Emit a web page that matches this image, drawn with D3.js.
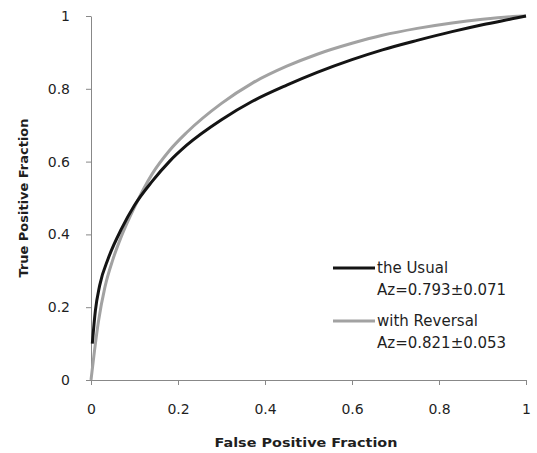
<!DOCTYPE html>
<html>
<head>
<meta charset="utf-8">
<script src="https://cdn.jsdelivr.net/npm/d3@7"></script>
<style>
  body { margin: 0; background: #fff; }
  text { font-family: "DejaVu Sans", Verdana, sans-serif; fill: #1f1f1f; }
</style>
</head>
<body>
<svg width="537" height="453"></svg>
<script>
(function(d3) {
    'use strict';

    // ROC points
    const usualFpf = [0.003, 0.01, 0.02, 0.04, 0.07, 0.1, 0.14, 0.18, 0.22, 0.3, 0.37, 0.45, 0.52, 0.6, 0.67, 0.75, 0.83, 0.9, 0.98, 1];
    const usualTpf = [0.10, 0.19, 0.26, 0.335, 0.415, 0.48, 0.545, 0.60, 0.645, 0.715, 0.765, 0.81, 0.845, 0.88, 0.907, 0.933, 0.957, 0.976, 0.995, 1];

    const reversalFpf = [0, 0.008, 0.017, 0.032, 0.05, 0.07, 0.1, 0.14, 0.18, 0.22, 0.3, 0.37, 0.45, 0.52, 0.6, 0.67, 0.75, 0.83, 0.9, 0.98, 1];
    const reversalTpf = [0, 0.08, 0.16, 0.255, 0.33, 0.395, 0.475, 0.565, 0.63, 0.68, 0.76, 0.815, 0.862, 0.895, 0.925, 0.947, 0.966, 0.981, 0.991, 0.999, 1];

    const ticks = [0, 0.2, 0.4, 0.6, 0.8, 1];
    const legendLabels = [['the Usual', 'Az=0.793\u00b10.071'], ['with Reversal', 'Az=0.821\u00b10.053']];
    const colors = ['#141414', '#a2a2a2'];

    const svg = d3.select('svg');
    const x = d3.scaleLinear().domain([0, 1]).range([91, 526]);
    const y = d3.scaleLinear().domain([0, 1]).range([380, 16]);

    const axisColor = '#888';
    const styleAxis = g => {
        g.select('.domain').attr('stroke', axisColor);
        g.selectAll('.tick line').attr('stroke', axisColor);
        g.selectAll('.tick text').attr('font-size', 14).attr('fill', '#1f1f1f');
    };

    svg.append('g')
        .attr('transform', `translate(0,${y(0)})`)
        .call(d3.axisBottom(x).tickValues(ticks).tickFormat(d3.format('~g'))
            .tickSizeInner(5).tickSizeOuter(0).tickPadding(19))
        .call(styleAxis);

    svg.append('g')
        .attr('transform', `translate(${x(0)},0)`)
        .call(d3.axisLeft(y).tickValues(ticks).tickFormat(d3.format('~g'))
            .tickSizeInner(5).tickSizeOuter(0).tickPadding(16))
        .call(styleAxis);

    svg.append('text')
        .attr('x', 306).attr('y', 447)
        .attr('text-anchor', 'middle')
        .attr('font-size', 13).attr('font-weight', 'bold')
        .attr('textLength', 183).attr('lengthAdjust', 'spacingAndGlyphs')
        .text('False Positive Fraction');

    svg.append('text')
        .attr('transform', 'translate(28,198) rotate(-90)')
        .attr('text-anchor', 'middle')
        .attr('font-size', 13).attr('font-weight', 'bold')
        .attr('textLength', 159).attr('lengthAdjust', 'spacingAndGlyphs')
        .text('True Positive Fraction');

    const line = d3.line()
        .x(d => x(d[0]))
        .y(d => y(d[1]))
        .curve(d3.curveMonotoneX);

    const series = [
        d3.zip(usualFpf, usualTpf),
        d3.zip(reversalFpf, reversalTpf)
    ];

    svg.append('g').selectAll('path')
        .data(series.slice().reverse())
        .enter().append('path')
        .attr('d', line)
        .attr('fill', 'none')
        .attr('stroke', (d, i) => colors[1 - i])
        .attr('stroke-width', 3);

    const legend = svg.append('g').attr('transform', 'translate(333,268)');
    const item = legend.selectAll('g')
        .data(legendLabels)
        .enter().append('g')
        .attr('transform', (d, i) => `translate(0, ${i * 53})`);

    item.append('line')
        .attr('x1', 0).attr('x2', 42)
        .attr('stroke', (d, i) => colors[i])
        .attr('stroke-width', 3);

    item.append('text')
        .attr('x', 44).attr('y', 5)
        .attr('font-size', 15)
        .text(d => d[0]);

    item.append('text')
        .attr('x', 44).attr('y', 27)
        .attr('font-size', 15)
        .text(d => d[1]);
}(d3));
</script>
</body>
</html>
